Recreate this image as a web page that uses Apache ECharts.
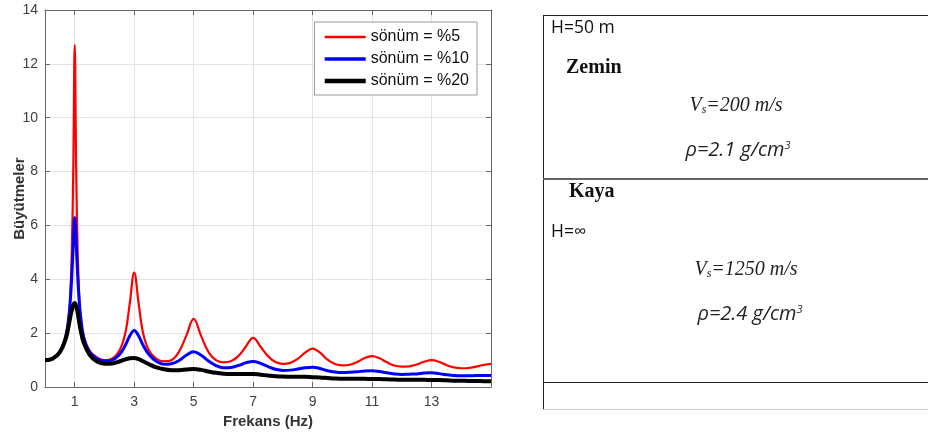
<!DOCTYPE html>
<html>
<head>
<meta charset="utf-8">
<script src="https://cdn.jsdelivr.net/npm/echarts@6/dist/echarts.min.js"></script>
<style>html,body{margin:0;padding:0;background:#fff;}#c{width:928px;height:434px;}</style>
</head>
<body>
<div id="c"></div>
<script>
// Frequencies (Hz)
const freq = [0, 0.25, 0.5, 0.7, 0.8, 0.85, 0.9, 0.95, 1.0, 1.05, 1.1, 1.15, 1.2, 1.3, 1.5, 1.75,
  2.0, 2.25, 2.5, 2.7, 2.85, 3.0, 3.15, 3.3, 3.5, 3.75,
  4.0, 4.25, 4.5, 4.75, 5.0, 5.25, 5.5, 5.75, 6.0, 6.25, 6.5, 6.75, 7.0, 7.25, 7.5, 7.75,
  8.0, 8.25, 8.5, 8.75, 9.0, 9.25, 9.5, 9.75, 10.0, 10.25, 10.5, 10.75, 11.0, 11.25, 11.5, 11.75,
  12.0, 12.25, 12.5, 12.75, 13.0, 13.25, 13.5, 13.75, 14.0, 14.25, 14.5, 14.75, 15.0];
// sönüm = %5
const damp5 = [1.0, 1.05, 1.3, 1.9, 2.6, 3.4, 5.0, 8.0, 12.7, 8.0, 5.0, 3.4, 2.6, 1.9, 1.35, 1.1,
  1.0, 1.05, 1.35, 2.0, 3.1, 4.25, 3.1, 2.0, 1.35, 1.05,
  0.96, 1.0, 1.3, 1.9, 2.53, 1.9, 1.3, 1.0, 0.92, 0.96, 1.15, 1.5, 1.83, 1.5, 1.15, 0.93,
  0.86, 0.9, 1.05, 1.28, 1.43, 1.28, 1.02, 0.86, 0.81, 0.83, 0.93, 1.08, 1.15, 1.07, 0.92, 0.8,
  0.76, 0.77, 0.84, 0.94, 1.0, 0.94, 0.82, 0.73, 0.7, 0.71, 0.76, 0.82, 0.86];
// sönüm = %10
const damp10 = [1.0, 1.05, 1.3, 1.9, 2.6, 3.2, 4.1, 5.3, 6.3, 5.3, 4.1, 3.2, 2.6, 1.85, 1.3, 1.05,
  0.97, 1.0, 1.2, 1.55, 1.9, 2.1, 1.9, 1.55, 1.2, 0.95,
  0.85, 0.87, 0.98, 1.18, 1.31, 1.18, 0.97, 0.8, 0.72, 0.73, 0.8, 0.9, 0.95, 0.88, 0.76, 0.66,
  0.62, 0.63, 0.67, 0.72, 0.74, 0.69, 0.61, 0.56, 0.54, 0.55, 0.57, 0.6, 0.61, 0.58, 0.53, 0.49,
  0.47, 0.48, 0.49, 0.52, 0.53, 0.5, 0.46, 0.43, 0.42, 0.42, 0.43, 0.43, 0.43];
// sönüm = %20
const damp20 = [1.0, 1.05, 1.3, 1.8, 2.3, 2.6, 2.85, 3.05, 3.12, 3.0, 2.75, 2.4, 2.1, 1.65, 1.2, 0.95,
  0.87, 0.88, 0.95, 1.03, 1.07, 1.08, 1.04, 0.96, 0.85, 0.73,
  0.66, 0.63, 0.63, 0.65, 0.67, 0.64, 0.58, 0.53, 0.5, 0.49, 0.49, 0.49, 0.49, 0.46, 0.43, 0.4,
  0.39, 0.38, 0.38, 0.38, 0.37, 0.36, 0.34, 0.32, 0.31, 0.31, 0.31, 0.31, 0.3, 0.3, 0.29, 0.28,
  0.27, 0.27, 0.27, 0.27, 0.26, 0.26, 0.25, 0.24, 0.24, 0.23, 0.23, 0.22, 0.22];
const seriesNames = ['sönüm = %5', 'sönüm = %10', 'sönüm = %20'];
const xTicks = [1, 3, 5, 7, 9, 11, 13];
const xAxisTitle = 'Frekans (Hz)';
const yAxisTitle = 'Büyütmeler';

const pair = arr => freq.map((f, i) => [f, arr[i]]);
const chart = echarts.init(document.getElementById('c'), null, {renderer: 'canvas'});
const axisCol = '#666';
const labelCol = '#404040';
const colors = ['#ff0000', '#0000ff', '#000000'];
const widths = [2.2, 3, 4];
const mkSeries = (i, data) => ({
  name: seriesNames[i], type: 'line', data: pair(data), showSymbol: false, symbol: 'none',
  smooth: 0.4, lineStyle: {color: colors[i], width: widths[i]}, itemStyle: {color: colors[i]}, z: 3 + i,
  xAxisIndex: 0, yAxisIndex: 0, animation: false
});
const option = {
  animation: false,
  grid: {left: 45, top: 10, right: 437, bottom: 44},
  legend: {
    orient: 'vertical', right: 451, top: 22, itemWidth: 41, itemHeight: 16, itemGap: 6,
    padding: [7, 8, 6, 8], backgroundColor: '#fff', borderColor: '#999', borderWidth: 1,
    textStyle: {fontFamily: 'Liberation Sans', fontSize: 16, color: '#111'},
    itemStyle: {opacity: 0},
    data: seriesNames.map((n, i) => ({name: n, itemStyle: {opacity: 0}, lineStyle: {width: widths[i] + 0.5, color: colors[i]}}))
  },
  xAxis: [{
    type: 'value', min: 0, max: 15, position: 'bottom',
    name: xAxisTitle, nameLocation: 'middle', nameGap: 24,
    nameTextStyle: {fontFamily: 'Liberation Sans', fontWeight: 'bold', fontSize: 15, color: '#333'},
    axisLine: {show: true, lineStyle: {color: axisCol}},
    axisTick: {show: true, inside: true, length: 5, customValues: xTicks, lineStyle: {color: axisCol}},
    axisLabel: {customValues: xTicks, margin: 8, fontFamily: 'Liberation Sans', fontSize: 14, color: labelCol},
    splitLine: {show: true, lineStyle: {color: '#e3e3e3'}}
  }, {
    type: 'value', min: 0, max: 15, position: 'top',
    axisLine: {show: true, onZero: false, lineStyle: {color: axisCol}},
    axisTick: {show: true, inside: true, length: 5, customValues: xTicks, lineStyle: {color: axisCol}},
    axisLabel: {show: false}, splitLine: {show: false}
  }],
  yAxis: [{
    type: 'value', min: 0, max: 14, interval: 2, position: 'left',
    name: yAxisTitle, nameLocation: 'middle', nameGap: 18, nameRotate: 90, nameMoveOverlap: false,
    nameTextStyle: {fontFamily: 'Liberation Sans', fontWeight: 'bold', fontSize: 15, color: '#333'},
    axisLine: {show: true, lineStyle: {color: axisCol}},
    axisTick: {show: true, inside: true, length: 5, lineStyle: {color: axisCol}},
    axisLabel: {margin: 7, fontFamily: 'Liberation Sans', fontSize: 14, color: labelCol},
    splitLine: {show: true, lineStyle: {color: '#e3e3e3'}}
  }, {
    type: 'value', min: 0, max: 14, interval: 2, position: 'right',
    axisLine: {show: true, onZero: false, lineStyle: {color: axisCol}},
    axisTick: {show: true, inside: true, length: 5, lineStyle: {color: axisCol}},
    axisLabel: {show: false}, splitLine: {show: false}
  }],
  series: [mkSeries(0, damp5), mkSeries(1, damp10), mkSeries(2, damp20)],
  graphic: [
    {type: 'line', shape: {x1: 543.5, y1: 15, x2: 543.5, y2: 409}, style: {stroke: '#222', lineWidth: 1}},
    {type: 'line', shape: {x1: 543, y1: 15.5, x2: 928, y2: 15.5}, style: {stroke: '#222', lineWidth: 1}},
    {type: 'line', shape: {x1: 543, y1: 179, x2: 928, y2: 179}, style: {stroke: '#666', lineWidth: 2}},
    {type: 'line', shape: {x1: 543, y1: 382.5, x2: 928, y2: 382.5}, style: {stroke: '#222', lineWidth: 1}},
    {type: 'line', shape: {x1: 543, y1: 409.5, x2: 928, y2: 409.5}, style: {stroke: '#ccc', lineWidth: 1}},
    {type: 'text', x: 551, y: 28, style: {text: 'H=50 m', font: '17.5px "Open Sans"', fill: '#111', textVerticalAlign: 'middle'}},
    {type: 'text', x: 566, y: 68, style: {text: 'Zemin', font: 'bold 20px "Liberation Serif"', fill: '#111', textVerticalAlign: 'middle'}},
    {type: 'text', x: 736, y: 106, style: {
      text: '{v|V}{s|s}{v|=200 m/s}', textAlign: 'center', textVerticalAlign: 'middle',
      rich: {v: {font: 'italic 20px "Liberation Serif"', fill: '#222'}, s: {font: 'italic 12px "Liberation Serif"', fill: '#222', verticalAlign: 'bottom'}}
    }},
    {type: 'text', x: 738, y: 150, style: {
      text: '{v|ρ=2.1 g/cm}{s|3}', textAlign: 'center', textVerticalAlign: 'middle',
      rich: {v: {font: 'italic 20px "Open Sans"', fill: '#222'}, s: {font: 'italic 11px "Open Sans"', fill: '#222', verticalAlign: 'top'}}
    }},
    {type: 'text', x: 569, y: 192, style: {text: 'Kaya', font: 'bold 20px "Liberation Serif"', fill: '#111', textVerticalAlign: 'middle'}},
    {type: 'text', x: 551, y: 232, style: {text: 'H=∞', font: '17.5px "Open Sans"', fill: '#111', textVerticalAlign: 'middle'}},
    {type: 'text', x: 746, y: 270, style: {
      text: '{v|V}{s|s}{v|=1250 m/s}', textAlign: 'center', textVerticalAlign: 'middle',
      rich: {v: {font: 'italic 20px "Liberation Serif"', fill: '#222'}, s: {font: 'italic 12px "Liberation Serif"', fill: '#222', verticalAlign: 'bottom'}}
    }},
    {type: 'text', x: 750, y: 314, style: {
      text: '{v|ρ=2.4 g/cm}{s|3}', textAlign: 'center', textVerticalAlign: 'middle',
      rich: {v: {font: 'italic 20px "Open Sans"', fill: '#222'}, s: {font: 'italic 11px "Open Sans"', fill: '#222', verticalAlign: 'top'}}
    }}
  ]
};
chart.setOption(option);
</script>
</body>
</html>
